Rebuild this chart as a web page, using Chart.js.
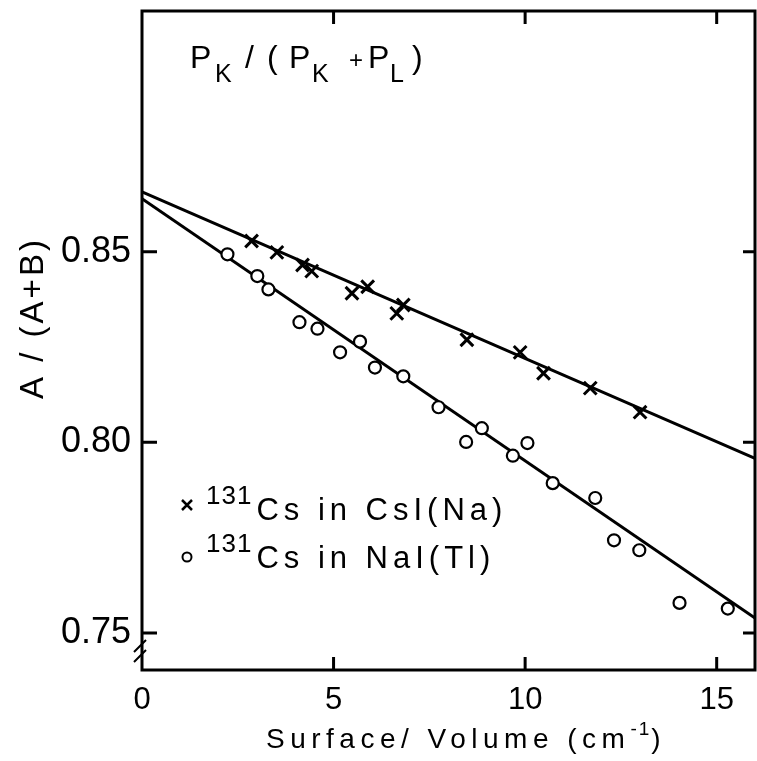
<!DOCTYPE html>
<html>
<head>
<meta charset="utf-8">
<script src="https://cdn.jsdelivr.net/npm/chart.js@4.4.1/dist/chart.umd.min.js"></script>
<style>
  html, body { margin: 0; padding: 0; background: #fff; }
</style>
</head>
<body>
<canvas id="chart" width="757" height="761"></canvas>
<script>
// 131Cs in CsI(Na)  (crosses)
const csiX = [2.86, 3.52, 4.19, 4.43, 5.48, 5.89, 6.65, 6.82, 8.48, 9.87, 10.48, 11.70, 13.00];
const csiY = [0.8528, 0.8498, 0.8465, 0.8449, 0.8391, 0.8408, 0.8338, 0.8360, 0.8269, 0.8236, 0.8181, 0.8142, 0.8079];

// 131Cs in NaI(Tl)  (circles)
const naiX = [2.23, 3.01, 3.30, 4.11, 4.58, 5.17, 5.69, 6.08, 6.82, 7.74, 8.46, 8.87, 9.68, 10.06, 10.72, 11.83, 12.32, 12.98, 14.03, 15.29];
const naiY = [0.8493, 0.8436, 0.8401, 0.8315, 0.8298, 0.8236, 0.8264, 0.8196, 0.8173, 0.8092, 0.8001, 0.8037, 0.7965, 0.7998, 0.7893, 0.7854, 0.7743, 0.7717, 0.7579, 0.7564];

// fitted straight lines (end points)
const csiFitX = [0, 16];
const csiFitY = [0.8657, 0.7958];
const naiFitX = [0, 16];
const naiFitY = [0.8639, 0.7539];

const xTicks = [0, 5, 10, 15];
const yTicks = [0.75, 0.80, 0.85];

const FONT = "'Liberation Sans', Arial, sans-serif";

function pts(xs, ys) {
    return xs.map((x, i) => ({ x: x, y: ys[i] }));
}

// draw a row of text pieces; a piece without x continues after the previous one
function drawPieces(ctx, x0, pieces) {
    ctx.textAlign = 'left';
    ctx.textBaseline = 'alphabetic';
    let x = x0;
    pieces.forEach(p => {
        ctx.font = p.size + 'px ' + FONT;
        ctx.letterSpacing = (p.ls || 0) + 'px';
        if (p.x !== undefined) x = p.x;
        ctx.fillText(p.t, x, p.y);
        x += ctx.measureText(p.t).width + (p.gap || 0);
    });
    ctx.letterSpacing = '0px';
}

function fixPadding(s) {
    s.paddingTop = 0;
    s.paddingBottom = 0;
    s.paddingLeft = 0;
    s.paddingRight = 0;
}

const framePlugin = {
    id: 'frame',
    afterDraw(chart) {
        const ctx = chart.ctx;
        const a = chart.chartArea;
        const xs = chart.scales.x;
        const ys = chart.scales.y;
        ctx.save();
        ctx.strokeStyle = '#000';
        ctx.fillStyle = '#000';
        ctx.lineWidth = 3;
        ctx.strokeRect(a.left, a.top, a.right - a.left, a.bottom - a.top);

        // inward ticks on all four sides
        ctx.beginPath();
        xTicks.forEach(v => {
            if (v === 0) return;
            const px = xs.getPixelForValue(v);
            ctx.moveTo(px, a.bottom); ctx.lineTo(px, a.bottom - 13);
            ctx.moveTo(px, a.top); ctx.lineTo(px, a.top + 13);
        });
        yTicks.forEach(v => {
            const py = ys.getPixelForValue(v);
            ctx.moveTo(a.left, py); ctx.lineTo(a.left + 15, py);
            ctx.moveTo(a.right, py); ctx.lineTo(a.right - 12, py);
        });
        ctx.stroke();

        // axis break mark
        ctx.lineWidth = 2;
        ctx.beginPath();
        ctx.moveTo(a.left - 8, 652); ctx.lineTo(a.left + 4, 640);
        ctx.moveTo(a.left - 8, 662); ctx.lineTo(a.left + 4, 650);
        ctx.stroke();

        // annotation P_K / (P_K + P_L)
        drawPieces(ctx, 190, [
            { t: 'P', x: 190, y: 68, size: 32 },
            { t: 'K', x: 215, y: 82, size: 25 },
            { t: '/', x: 245, y: 68, size: 32 },
            { t: '(', x: 267, y: 68, size: 32 },
            { t: 'P', x: 289, y: 68, size: 32 },
            { t: 'K', x: 312, y: 82, size: 25 },
            { t: '+', x: 349, y: 68, size: 24 },
            { t: 'P', x: 368, y: 68, size: 32 },
            { t: 'L', x: 390, y: 82, size: 25 },
            { t: ')', x: 412, y: 68, size: 32 }
        ]);

        // legend
        ctx.lineWidth = 2.5;
        ctx.beginPath();
        ctx.moveTo(182, 500); ctx.lineTo(192, 510);
        ctx.moveTo(192, 500); ctx.lineTo(182, 510);
        ctx.stroke();
        ctx.lineWidth = 2;
        ctx.beginPath();
        ctx.arc(187, 557, 4.5, 0, Math.PI * 2);
        ctx.stroke();
        drawPieces(ctx, 206, [
            { t: '131', y: 504, size: 26, ls: 1, gap: 4 },
            { t: 'Cs in CsI(Na)', y: 520, size: 31, ls: 5 }
        ]);
        drawPieces(ctx, 206, [
            { t: '131', y: 552, size: 26, ls: 1, gap: 4 },
            { t: 'Cs in NaI(Tl)', y: 568, size: 31, ls: 5 }
        ]);

        // x axis title
        drawPieces(ctx, 266, [
            { t: 'Surface/ Volume (cm', y: 748, size: 28, ls: 5.5 },
            { t: '-1', y: 735, size: 19, ls: 2 },
            { t: ')', y: 748, size: 28 }
        ]);

        // y axis title
        ctx.letterSpacing = '3px';
        ctx.translate(43, 318);
        ctx.rotate(-Math.PI / 2);
        ctx.font = '33px ' + FONT;
        ctx.textAlign = 'center';
        ctx.textBaseline = 'alphabetic';
        ctx.fillText('A / (A+B)', 0, 0);
        ctx.letterSpacing = '0px';
        ctx.restore();
    }
};

new Chart(document.getElementById('chart'), {
    type: 'scatter',
    data: {
        datasets: [{
            type: 'line',
            label: 'CsI fit',
            data: pts(csiFitX, csiFitY),
            borderColor: '#000',
            borderWidth: 3,
            pointRadius: 0,
            fill: false,
            order: 3
        }, {
            type: 'line',
            label: 'NaI fit',
            data: pts(naiFitX, naiFitY),
            borderColor: '#000',
            borderWidth: 3,
            pointRadius: 0,
            fill: false,
            order: 3
        }, {
            label: '131Cs in CsI(Na)',
            data: pts(csiX, csiY),
            pointStyle: 'crossRot',
            pointRadius: 9,
            borderColor: '#000',
            pointBorderWidth: 3,
            order: 1
        }, {
            label: '131Cs in NaI(Tl)',
            data: pts(naiX, naiY),
            pointStyle: 'circle',
            pointRadius: 6,
            borderColor: '#000',
            backgroundColor: '#fff',
            pointBorderWidth: 2.2,
            order: 1
        }]
    },
    options: {
        responsive: false,
        animation: false,
        layout: { autoPadding: false, padding: { left: 0, right: 2, top: 11, bottom: 0 } },
        plugins: {
            legend: { display: false },
            tooltip: { enabled: false }
        },
        scales: {
            x: {
                type: 'linear',
                min: 0,
                max: 16,
                afterBuildTicks: s => { s.ticks = xTicks.map(v => ({ value: v })); },
                afterFit: s => { s.height = 91; fixPadding(s); },
                grid: { display: false, drawTicks: false },
                border: { display: false },
                ticks: {
                    color: '#000',
                    padding: 12,
                    font: { family: FONT, size: 31 },
                    callback: v => String(v)
                }
            },
            y: {
                type: 'linear',
                min: 0.7403,
                max: 0.9131,
                afterBuildTicks: s => { s.ticks = yTicks.map(v => ({ value: v })); },
                afterFit: s => { s.width = 142; fixPadding(s); },
                grid: { display: false, drawTicks: false },
                border: { display: false },
                ticks: {
                    color: '#000',
                    padding: 11,
                    font: { family: FONT, size: 36 },
                    callback: v => v.toFixed(2)
                }
            }
        }
    },
    plugins: [framePlugin]
});
</script>
</body>
</html>
